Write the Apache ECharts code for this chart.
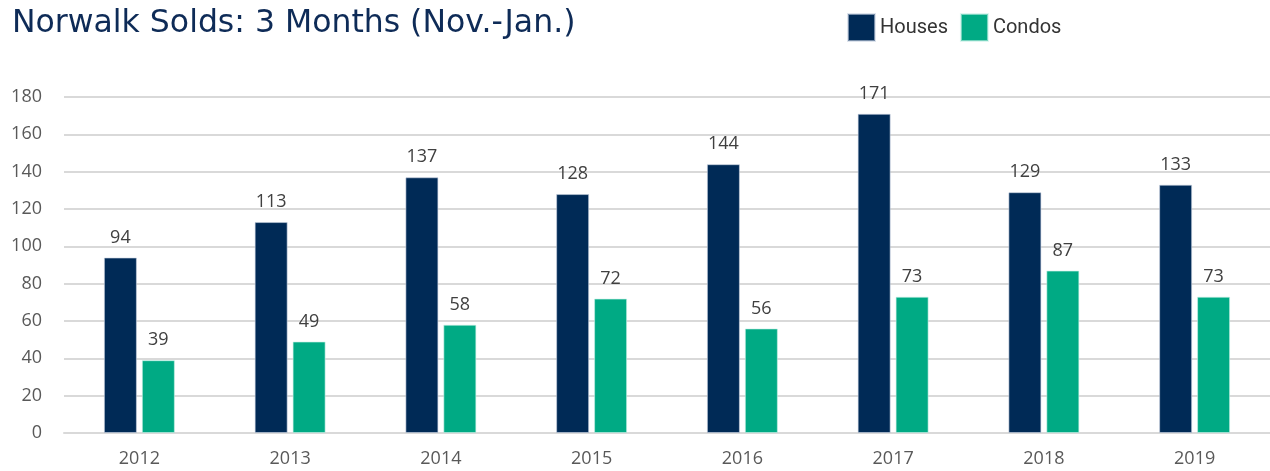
<!DOCTYPE html>
<html>
<head>
  <meta charset="utf-8">
  <title>Norwalk Solds</title>
  <script src="https://cdn.jsdelivr.net/npm/echarts@6/dist/echarts.min.js"></script>
  <style>
    html, body { margin: 0; padding: 0; background: #fff; }
    #chart { width: 1270px; height: 471px; }
  </style>
</head>
<body>
<div id="chart"></div>
<script>
  var years = ['2012', '2013', '2014', '2015', '2016', '2017', '2018', '2019'];
  var houses = [94, 113, 137, 128, 144, 171, 129, 133];
  var condos = [39, 49, 58, 72, 56, 73, 87, 73];

  var chart = echarts.init(document.getElementById('chart'));

  var labelStyle = {
    show: true,
    position: 'top',
    distance: 11,
    color: '#404040',
    fontSize: 18,
    fontFamily: 'Open Sans'
  };

  chart.setOption({
    animation: false,
    title: {
      text: 'Norwalk Solds: 3 Months (Nov.-Jan.)',
      left: 7,
      top: 3,
      textStyle: {
        color: '#0e2b57',
        fontSize: 31.5,
        fontWeight: 'normal',
        fontFamily: 'DejaVu Sans'
      }
    },
    legend: {
      left: 842,
      top: 8,
      icon: 'rect',
      itemWidth: 27,
      itemHeight: 27,
      itemGap: 12,
      textStyle: { color: '#333', fontSize: 20, fontFamily: 'Roboto', padding: [0, 0, 0, 0] },
      data: ['Houses', 'Condos']
    },
    grid: {
      left: 64,
      right: -2,
      top: 97,
      bottom: 38,
      containLabel: false
    },
    xAxis: {
      type: 'category',
      data: years,
      axisLine: { lineStyle: { color: '#d9d9d9', width: 2 } },
      axisTick: { show: false },
      axisLabel: { color: '#595959', fontSize: 18, fontFamily: 'Open Sans', margin: 17 }
    },
    yAxis: {
      type: 'value',
      min: 0,
      max: 180,
      interval: 20,
      axisLine: { show: false },
      axisTick: { show: false },
      axisLabel: { color: '#595959', fontSize: 18, fontFamily: 'Open Sans', margin: 22 },
      splitLine: { lineStyle: { color: '#d9d9d9', width: 2 } }
    },
    series: [
      {
        name: 'Houses',
        type: 'bar',
        data: houses,
        barWidth: 33,
        barGap: '15%',
        itemStyle: { color: '#002a56', borderColor: 'rgba(200,210,225,0.6)', borderWidth: 1 },
        label: labelStyle
      },
      {
        name: 'Condos',
        type: 'bar',
        data: condos,
        barWidth: 33,
        itemStyle: { color: '#00aa84', borderColor: 'rgba(200,240,230,0.6)', borderWidth: 1 },
        label: labelStyle
      }
    ]
  });

  window.onresize = function () {
    chart.resize();
  };
</script>
</body>
</html>
